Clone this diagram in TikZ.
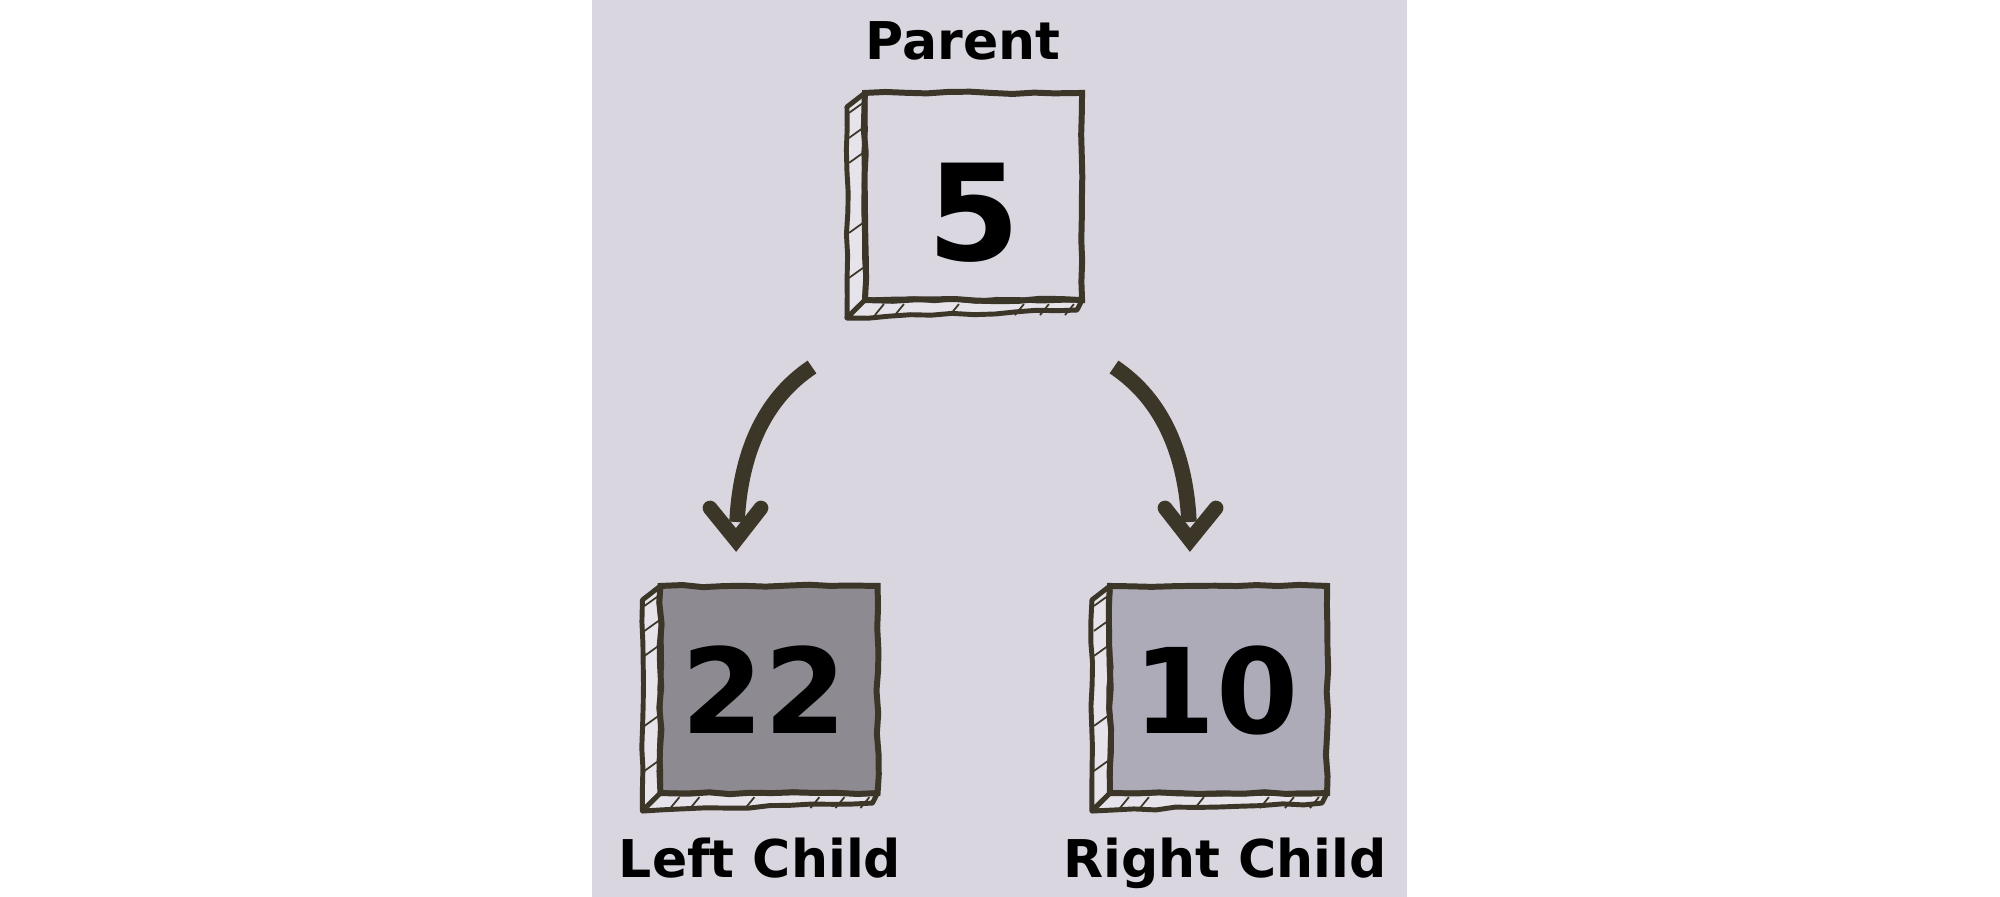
\documentclass[tikz,border=0pt]{standalone}
\usepackage{fontspec}
\setmainfont{DejaVu Sans}
\usetikzlibrary{decorations.pathmorphing}
\definecolor{bgpanel}{HTML}{D9D6DF}
\definecolor{ink}{HTML}{3C3628}
\definecolor{faceP}{HTML}{DAD7E0}
\definecolor{faceL}{HTML}{8D8A92}
\definecolor{faceR}{HTML}{ADABB8}
\definecolor{sidefill}{HTML}{E6E4EA}
\tikzset{
  face/.style={line width=1.7pt, minimum width=2.17cm, minimum height=2.07cm, inner sep=0pt, outer sep=0pt},
  wob/.style={decorate, decoration={random steps, segment length=6pt, amplitude=0.35pt}},
  side/.style={draw=ink, fill=sidefill, line width=1.4pt, line join=round},
  hatch/.style={draw=ink, line width=0.5pt},
  arrowline/.style={draw=ink, line width=4.4pt, line cap=butt},
  arrowhd/.style={draw=ink, line width=4.2pt, line join=miter, line cap=round},
  numtxt/.style={font=\fontsize{38}{40}\selectfont\bfseries, anchor=base, inner sep=0pt},
  smnum/.style={font=\fontsize{33.6}{36}\selectfont\bfseries, anchor=base, inner sep=0pt},
  lbl/.style={font=\fontsize{14.8}{16}\selectfont\bfseries, anchor=base, inner sep=0pt}
}
\newcommand{\slabsides}[1]{%
  \filldraw[side, wob] (#1.north west) -- ++(-18,14) -- ++(0,211) -- (#1.south west) -- cycle;
  \filldraw[side, wob] (#1.south west) -- ++(-18,18) -- ++(230,-8) -- (#1.south east) -- cycle;
  \foreach \yy in {20,45,70,140,185} {\draw[hatch] ([shift={(-16,\yy)}]#1.north west) -- ++(14,-10);}
  \foreach \xx in {10,30,85,150,175,200} {\draw[hatch] ([shift={(\xx,15)}]#1.south west) -- ++(9,-11);}
  \draw[ink, line width=1.7pt, wob] (#1.north west) -- (#1.north east) -- (#1.south east) -- (#1.south west) -- cycle;
}
\begin{document}
\begin{tikzpicture}[x=0.01cm,y=-0.01cm]
\pgfmathsetseed{7}
\useasboundingbox (0,0) rectangle (2000,897);
\fill[bgpanel] (592,0) rectangle (1407,897);

% nodes
\node[face, fill=faceP] (parent) at (973.5,196.5) {};
\slabsides{parent}
\node[numtxt] (parentnum) at (974,260) {5};
\node[lbl] (parentlbl) at (963,59) {Parent};

\node[face, fill=faceL] (left) at (769,689.5) {};
\slabsides{left}
\node[smnum] (leftnum) at (764,733) {22};
\node[lbl] (leftlbl) at (760,877) {Left Child};

\node[face, fill=faceR] (right) at (1218.5,689.5) {};
\slabsides{right}
\node[smnum] (rightnum) at (1216,733) {10};
\node[lbl] (rightlbl) at (1225,877) {Right Child};

% arrows
\coordinate (las) at (812,367);
\coordinate (lat) at (736,540);
\coordinate (lae) at (737,522);
\coordinate (law1) at (710,508);
\coordinate (law2) at (761,508);
\draw[arrowline] (las) .. controls (790,382) and (742,420) .. (lae);
\draw[arrowhd] (law1) -- (lat) -- (law2);

\coordinate (ras) at (1114,367);
\coordinate (rat) at (1190,540);
\coordinate (rae) at (1189,522);
\coordinate (raw1) at (1165,508);
\coordinate (raw2) at (1216,508);
\draw[arrowline] (ras) .. controls (1136,382) and (1184,420) .. (rae);
\draw[arrowhd] (raw1) -- (rat) -- (raw2);
\end{tikzpicture}
\end{document}
